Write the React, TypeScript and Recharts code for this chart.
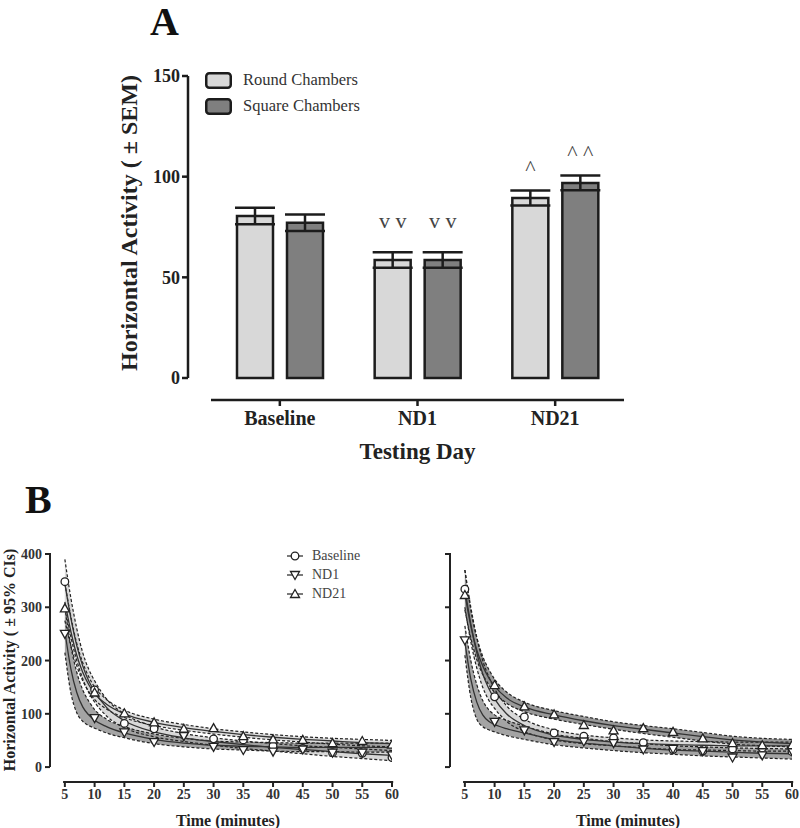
import React from 'react';
import {
  BarChart, Bar, XAxis, YAxis, ErrorBar, LabelList, Legend,
  ComposedChart, Area, Line, Scatter, ReferenceLine,
} from 'recharts';

// ---- panel A: mean activity per testing day ----
const days = ['Baseline', 'ND1', 'ND21'];
const roundMeans = [80.5, 58.6, 89.4];
const roundSem = [4.1, 3.9, 3.7];
const squareMeans = [77.1, 58.6, 96.9];
const squareSem = [4.1, 3.9, 3.7];
const roundUp = ['', '', '^'];
const roundDown = ['', 'v v', ''];
const squareUp = ['', '', '^ ^'];
const squareDown = ['', 'v v', ''];
const activityTicks = [0, 50, 100, 150];

// ---- panel B: activity over time (observed points) ----
const decaySeries = ['Baseline', 'ND1', 'ND21'];
const minutes = [5, 10, 15, 20, 25, 30, 35, 40, 45, 50, 55, 60];
const roundBaseline = [348, 145, 82, 72, 64, 53, 51, 40, 35, 27, 26, 18];
const roundNd1 = [250, 92, 65, 47, 58, 38, 32, 29, 33, 27, 27, 22];
const roundNd21 = [298, 140, 101, 84, 72, 73, 58, 52, 51, 45, 49, 42];
const squareBaseline = [334, 132, 94, 64, 58, 55, 46, 33, 30, 34, 36, 29];
const squareNd1 = [238, 85, 69, 47, 48, 45, 33, 34, 30, 18, 22, 30];
const squareNd21 = [323, 154, 114, 99, 79, 69, 73, 66, 54, 45, 41, 41];
const timeTicks = [0, 100, 200, 300, 400];

// fitted decay curves and 95% CI bounds
const fitMinutes = [5, 6, 7, 8, 9, 10, 12, 15, 20, 25, 30, 35, 40, 45, 50, 55, 60];
const roundBaseFit = [345, 280, 228, 190, 162, 142, 112, 87, 66, 55, 48, 42, 37, 33, 29, 25, 22];
const roundBaseLo = [305, 245, 200, 166, 140, 122, 96, 74, 57, 48, 41, 35, 30, 25, 20, 16, 12];
const roundBaseHi = [390, 318, 260, 215, 184, 162, 128, 100, 76, 63, 55, 49, 44, 40, 37, 34, 31];
const roundNd1Fit = [255, 185, 140, 113, 98, 88, 76, 64, 52, 45, 41, 39, 38, 37, 37, 37, 37];
const roundNd1Lo = [215, 140, 102, 86, 78, 73, 64, 55, 44, 38, 34, 32, 30, 29, 29, 28, 28];
const roundNd1Hi = [300, 228, 178, 145, 124, 108, 90, 76, 62, 54, 49, 47, 46, 45, 45, 45, 45];
const roundNd21Fit = [310, 255, 210, 178, 155, 138, 118, 100, 84, 74, 67, 61, 56, 52, 49, 46, 44];
const roundNd21Lo = [275, 228, 190, 162, 142, 127, 109, 93, 78, 69, 62, 56, 51, 47, 43, 40, 38];
const roundNd21Hi = [345, 283, 232, 196, 170, 150, 127, 107, 90, 80, 72, 66, 61, 57, 54, 52, 50];

const squareBaseFit = [335, 268, 215, 175, 148, 128, 100, 78, 60, 52, 47, 44, 42, 41, 40, 40, 40];
const squareBaseLo = [300, 235, 186, 150, 126, 110, 86, 67, 51, 44, 40, 36, 33, 32, 31, 30, 30];
const squareBaseHi = [370, 300, 244, 200, 170, 147, 115, 90, 70, 60, 55, 51, 49, 48, 47, 47, 47];
const squareNd1Fit = [235, 165, 122, 98, 86, 80, 72, 64, 52, 45, 40, 35, 32, 30, 28, 26, 25];
const squareNd1Lo = [210, 130, 90, 76, 70, 66, 59, 52, 42, 36, 31, 27, 24, 21, 19, 17, 15];
const squareNd1Hi = [265, 200, 155, 125, 108, 98, 88, 77, 62, 54, 48, 44, 40, 38, 36, 35, 34];
const squareNd21Fit = [325, 265, 220, 190, 168, 152, 130, 113, 98, 87, 78, 71, 64, 57, 51, 47, 44];
const squareNd21Lo = [295, 242, 202, 174, 155, 140, 120, 104, 90, 80, 71, 63, 56, 49, 43, 40, 38];
const squareNd21Hi = [370, 295, 243, 208, 184, 165, 141, 122, 106, 95, 85, 78, 72, 65, 58, 54, 52];

const barRows = days.map((day, i) => ({
  day,
  round: roundMeans[i],
  square: squareMeans[i],
  roundErr: roundSem[i],
  squareErr: squareSem[i],
  roundUp: roundUp[i],
  roundDown: roundDown[i],
  squareUp: squareUp[i],
  squareDown: squareDown[i],
}));

const makeFitRows = (bf: number[], bl: number[], bh: number[], n1f: number[], n1l: number[], n1h: number[], n21f: number[], n21l: number[], n21h: number[]) =>
  fitMinutes.map((t, i) => ({
    t,
    baseFit: bf[i], baseLo: bl[i], baseHi: bh[i], baseBand: [bl[i], bh[i]],
    nd1Fit: n1f[i], nd1Lo: n1l[i], nd1Hi: n1h[i], nd1Band: [n1l[i], n1h[i]],
    nd21Fit: n21f[i], nd21Lo: n21l[i], nd21Hi: n21h[i], nd21Band: [n21l[i], n21h[i]],
  }));

const makeObsRows = (b: number[], n1: number[], n21: number[]) =>
  minutes.map((t, i) => ({ t, base: b[i], nd1: n1[i], nd21: n21[i] }));

const roundFitRows = makeFitRows(roundBaseFit, roundBaseLo, roundBaseHi, roundNd1Fit, roundNd1Lo, roundNd1Hi, roundNd21Fit, roundNd21Lo, roundNd21Hi);
const squareFitRows = makeFitRows(squareBaseFit, squareBaseLo, squareBaseHi, squareNd1Fit, squareNd1Lo, squareNd1Hi, squareNd21Fit, squareNd21Lo, squareNd21Hi);
const roundObsRows = makeObsRows(roundBaseline, roundNd1, roundNd21);
const squareObsRows = makeObsRows(squareBaseline, squareNd1, squareNd21);

const INK = '#1c1c1c';

const OpenCircle = (p: any) => <circle cx={p.cx} cy={p.cy} r={3.8} fill="#fff" stroke="#222" strokeWidth={1.3} />;
const TriDown = (p: any) => (
  <polygon points={`${p.cx - 4.5},${p.cy - 3.5} ${p.cx + 4.5},${p.cy - 3.5} ${p.cx},${p.cy + 4.5}`} fill="#fff" stroke="#222" strokeWidth={1.3} />
);
const TriUp = (p: any) => (
  <polygon points={`${p.cx - 4.5},${p.cy + 3.5} ${p.cx + 4.5},${p.cy + 3.5} ${p.cx},${p.cy - 4.5}`} fill="#fff" stroke="#222" strokeWidth={1.3} />
);

const markerFor = (name: string, cx: number, cy: number) => {
  if (name === 'ND1') return <TriDown cx={cx} cy={cy} />;
  if (name === 'ND21') return <TriUp cx={cx} cy={cy} />;
  return <OpenCircle cx={cx} cy={cy} />;
};

const ChamberLegend = ({ payload }: any) => (
  <div>
    {(payload || []).map((entry: any) => (
      <div key={entry.value} style={{ display: 'flex', alignItems: 'center', height: 26 }}>
        <svg width={27} height={17}>
          <rect x={1.25} y={1.25} width={24.5} height={14.5} rx={3} fill={entry.color} stroke={INK} strokeWidth={2.5} />
        </svg>
        <span style={{ marginLeft: 11, fontSize: 16.5, color: '#333' }}>{entry.value}</span>
      </div>
    ))}
  </div>
);

const DecayLegend = ({ payload }: any) => (
  <div>
    {(payload || []).filter((entry: any) => decaySeries.includes(entry.value)).map((entry: any) => (
      <div key={entry.value} style={{ display: 'flex', alignItems: 'center', height: 19 }}>
        <svg width={16} height={12}>
          <line x1={0} y1={6} x2={16} y2={6} stroke="#333" strokeWidth={1.3} />
          {markerFor(entry.value, 8, 6)}
        </svg>
        <span style={{ marginLeft: 9, fontSize: 14, color: '#444' }}>{entry.value}</span>
      </div>
    ))}
  </div>
);

const axisTick = { fontSize: 14, fontWeight: 'bold', fill: '#333' };

const DecayPanel = ({ rows, obs, showLabels, nd21Fill }: any) => (
  <ComposedChart width={400} height={348} data={rows} margin={{ top: 74, right: 8, bottom: 2, left: 0 }}>
    <XAxis
      dataKey="t" type="number" domain={[2.5, 60]} ticks={minutes} allowDataOverflow
      axisLine={false} tickLine={{ stroke: '#222', strokeWidth: 2 }} tickSize={5} tickMargin={2}
      tick={axisTick} height={44} interval={0}
      label={{ value: 'Time (minutes)', position: 'insideBottom', offset: 0, dx: 7, fontSize: 16, fontWeight: 'bold', fill: '#222' }}
    />
    <YAxis
      type="number" domain={[-28, 400]} ticks={timeTicks} allowDataOverflow width={50}
      axisLine={false} tickLine={{ stroke: '#222', strokeWidth: 2 }} tickSize={5} tickMargin={3}
      tick={axisTick} tickFormatter={showLabels ? undefined : () => ''}
      label={showLabels ? { value: 'Horizontal Activity ( \u00b1 95% CIs)', angle: -90, position: 'insideLeft', offset: 9, dy: -8, fontSize: 16, fontWeight: 'bold', fill: '#222', style: { textAnchor: 'middle' } } : undefined}
    />
    <ReferenceLine segment={[{ x: 2.5, y: 0 }, { x: 2.5, y: 402 }]} stroke="#222" strokeWidth={2} ifOverflow="visible" />
    <ReferenceLine segment={[{ x: 4.7, y: -28 }, { x: 60.2, y: -28 }]} stroke="#222" strokeWidth={2} ifOverflow="visible" />

    <Area type="monotone" dataKey="baseBand" stroke="none" fill="#d4d4d4" fillOpacity={0.9} legendType="none" isAnimationActive={false} />
    <Area type="monotone" dataKey="nd21Band" stroke="none" fill={nd21Fill} fillOpacity={0.9} legendType="none" isAnimationActive={false} />
    <Area type="monotone" dataKey="nd1Band" stroke="none" fill="#9a9a9a" fillOpacity={0.9} legendType="none" isAnimationActive={false} />

    {['baseLo', 'baseHi', 'nd1Lo', 'nd1Hi', 'nd21Lo', 'nd21Hi'].map((k) => (
      <Line key={k} type="monotone" dataKey={k} stroke="#222" strokeWidth={1.2} strokeDasharray="3 2" dot={false} legendType="none" isAnimationActive={false} />
    ))}
    {['baseFit', 'nd1Fit', 'nd21Fit'].map((k) => (
      <Line key={k} type="monotone" dataKey={k} stroke="#333" strokeWidth={1.3} dot={false} legendType="none" isAnimationActive={false} />
    ))}

    <Scatter name="Baseline" data={obs} dataKey="base" shape={<OpenCircle />} isAnimationActive={false} />
    <Scatter name="ND1" data={obs} dataKey="nd1" shape={<TriDown />} isAnimationActive={false} />
    <Scatter name="ND21" data={obs} dataKey="nd21" shape={<TriUp />} isAnimationActive={false} />

    {showLabels && (
      <Legend
        layout="vertical" align="center" verticalAlign="middle"
        content={<DecayLegend />}
        wrapperStyle={{ left: 287, top: 66, width: 'auto', height: 'auto' }}
      />
    )}
  </ComposedChart>
);

export default function App() {
  return (
    <div style={{ position: 'absolute', left: 0, top: 0, width: 800, height: 828, background: '#fff', overflow: 'hidden', fontFamily: '"Liberation Serif", "Times New Roman", serif' }}>
      <div style={{ position: 'absolute', left: 150, top: 0, fontSize: 40, fontWeight: 'bold', lineHeight: '44px', color: '#111' }}>A</div>
      <div style={{ position: 'absolute', left: 25, top: 478, fontSize: 40, fontWeight: 'bold', lineHeight: '44px', color: '#111' }}>B</div>

      {/* bars with the y axis */}
      <div style={{ position: 'absolute', left: 0, top: 0 }}>
        <BarChart width={800} height={400} data={barRows} barSize={36} barGap={14} margin={{ top: 76, right: 176, bottom: 22, left: 120 }}>
          <XAxis dataKey="day" hide padding={{ left: 23, right: 0 }} />
          <YAxis
            domain={[0, 150]} ticks={activityTicks} width={68}
            axisLine={{ stroke: INK, strokeWidth: 2.5 }} tickLine={{ stroke: INK, strokeWidth: 2.5 }} tickSize={6} tickMargin={2}
            tick={{ fontSize: 18, fontWeight: 'bold', fill: '#222' }}
            label={{ value: 'Horizontal Activity ( \u00b1 SEM)', angle: -90, position: 'insideLeft', offset: 8, dy: -4, fontSize: 24, fontWeight: 'bold', fill: '#222', style: { textAnchor: 'middle' } }}
          />
          <Bar dataKey="round" name="Round Chambers" fill="#d8d8d8" stroke={INK} strokeWidth={2.5} isAnimationActive={false}>
            <ErrorBar dataKey="roundErr" width={20} stroke={INK} strokeWidth={2.5} />
            <LabelList dataKey="roundUp" position="top" offset={23} fill="#444" fontSize={22} />
            <LabelList dataKey="roundDown" position="top" offset={32} fill="#444" fontSize={22} />
          </Bar>
          <Bar dataKey="square" name="Square Chambers" fill="#7f7f7f" stroke={INK} strokeWidth={2.5} isAnimationActive={false}>
            <ErrorBar dataKey="squareErr" width={20} stroke={INK} strokeWidth={2.5} />
            <LabelList dataKey="squareUp" position="top" offset={23} fill="#444" fontSize={22} />
            <LabelList dataKey="squareDown" position="top" offset={32} fill="#444" fontSize={22} />
          </Bar>
          <Legend
            layout="vertical" align="center" verticalAlign="middle"
            content={<ChamberLegend />}
            wrapperStyle={{ left: 205, top: 67, width: 'auto', height: 'auto' }}
          />
        </BarChart>
      </div>

      {/* offset category axis below the bars */}
      <div style={{ position: 'absolute', left: 0, top: 0 }}>
        <BarChart width={800} height={470} data={barRows} margin={{ top: 76, right: 176, bottom: 8, left: 211 }}>
          <XAxis
            dataKey="day" height={62}
            axisLine={{ stroke: INK, strokeWidth: 2.5 }} tickLine={{ stroke: INK, strokeWidth: 2.5 }} tickSize={6} tickMargin={5}
            tick={{ fontSize: 20, fontWeight: 'bold', fill: '#222' }}
            label={{ value: 'Testing Day', position: 'insideBottom', offset: 3, fontSize: 23, fontWeight: 'bold', fill: '#222' }}
          />
          <YAxis hide domain={[0, 150]} />
          <Bar dataKey="round" fill="none" legendType="none" isAnimationActive={false} />
        </BarChart>
      </div>

      <div style={{ position: 'absolute', left: 0, top: 480 }}>
        <DecayPanel rows={roundFitRows} obs={roundObsRows} showLabels nd21Fill="#dadada" />
      </div>
      <div style={{ position: 'absolute', left: 400, top: 480 }}>
        <DecayPanel rows={squareFitRows} obs={squareObsRows} showLabels={false} nd21Fill="#8e8e8e" />
      </div>
    </div>
  );
}
